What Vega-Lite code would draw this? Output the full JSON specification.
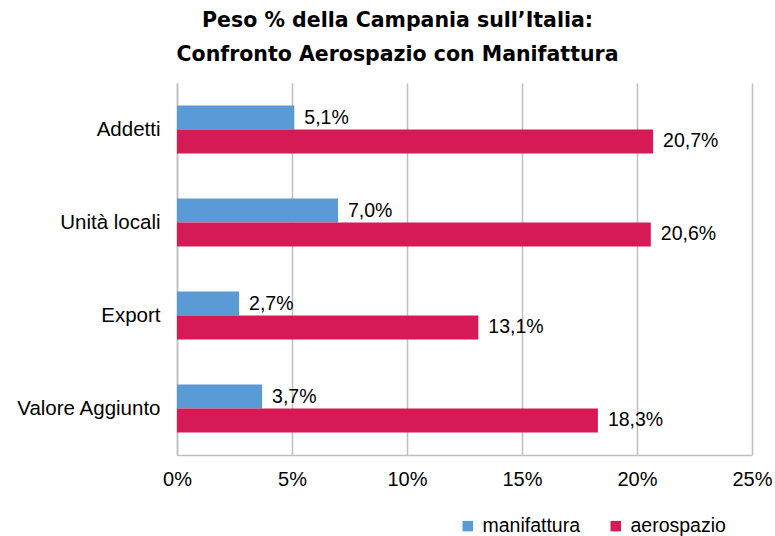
{
  "$schema": "https://vega.github.io/schema/vega-lite/v6.json",
  "width": 575,
  "height": 372,
  "autosize": {"type": "none"},
  "padding": {"left": 177, "top": 83, "right": 23, "bottom": 81},
  "background": "white",
  "config": {
    "locale": {"number": {"decimal": ",", "thousands": ".", "grouping": [3], "currency": ["€", ""]}},
    "view": {"stroke": null},
    "font": "Liberation Sans"
  },
  "title": {
    "text": ["Peso % della Campania sull’Italia:", "Confronto Aerospazio con Manifattura"],
    "font": "DejaVu Sans",
    "fontWeight": "bold",
    "fontSize": 20.5,
    "lineHeight": 34,
    "color": "#000000",
    "anchor": "middle",
    "dx": -67,
    "offset": 18
  },
  "data": {
    "values": [
      {"categoria": "Addetti", "serie": "manifattura", "valore": 0.051},
      {"categoria": "Addetti", "serie": "aerospazio", "valore": 0.207},
      {"categoria": "Unità locali", "serie": "manifattura", "valore": 0.070},
      {"categoria": "Unità locali", "serie": "aerospazio", "valore": 0.206},
      {"categoria": "Export ", "serie": "manifattura", "valore": 0.027},
      {"categoria": "Export ", "serie": "aerospazio", "valore": 0.131},
      {"categoria": "Valore Aggiunto", "serie": "manifattura", "valore": 0.037},
      {"categoria": "Valore Aggiunto", "serie": "aerospazio", "valore": 0.183}
    ]
  },
  "encoding": {
    "y": {
      "field": "categoria",
      "type": "nominal",
      "sort": ["Addetti", "Unità locali", "Export ", "Valore Aggiunto"],
      "scale": {"paddingInner": 0.484, "paddingOuter": 0.242},
      "axis": {
        "title": null,
        "ticks": false,
        "labelFontSize": 20.5,
        "labelColor": "#000000",
        "labelPadding": 17,
        "domainColor": "#BFBFBF",
        "domainWidth": 1.5,
        "labelFont": "Arial"
      }
    },
    "yOffset": {
      "field": "serie",
      "type": "nominal",
      "sort": ["manifattura", "aerospazio"]
    },
    "x": {
      "field": "valore",
      "type": "quantitative",
      "scale": {"domain": [0, 0.25], "nice": false},
      "axis": {
        "title": null,
        "format": ".0%",
        "values": [0, 0.05, 0.1, 0.15, 0.2, 0.25],
        "ticks": false,
        "labelFlush": false,
        "labelFontSize": 20,
        "labelColor": "#000000",
        "labelPadding": 14,
        "domainColor": "#BFBFBF",
        "domainWidth": 1.5,
        "gridColor": "#BFBFBF",
        "gridWidth": 1.5,
        "labelFont": "Arial"
      }
    }
  },
  "layer": [
    {
      "mark": {"type": "bar"},
      "encoding": {
        "color": {
          "field": "serie",
          "type": "nominal",
          "sort": ["manifattura", "aerospazio"],
          "scale": {"domain": ["manifattura", "aerospazio"], "range": ["#5B9BD5", "#D51A56"]},
          "legend": {
            "title": null,
            "orient": "none",
            "direction": "horizontal",
            "legendX": 281,
            "legendY": 433,
            "symbolType": "square",
            "symbolSize": 110,
            "symbolStrokeWidth": 0,
            "labelFontSize": 19.5,
            "labelColor": "#000000",
            "labelFont": "Arial",
            "columnPadding": 25,
            "labelOffset": 5
          }
        }
      }
    },
    {
      "mark": {"type": "text", "align": "left", "baseline": "middle", "dx": 10, "fontSize": 19.5, "color": "#000000", "font": "Arial"},
      "encoding": {
        "text": {"field": "valore", "type": "quantitative", "format": ".1%"}
      }
    }
  ]
}
